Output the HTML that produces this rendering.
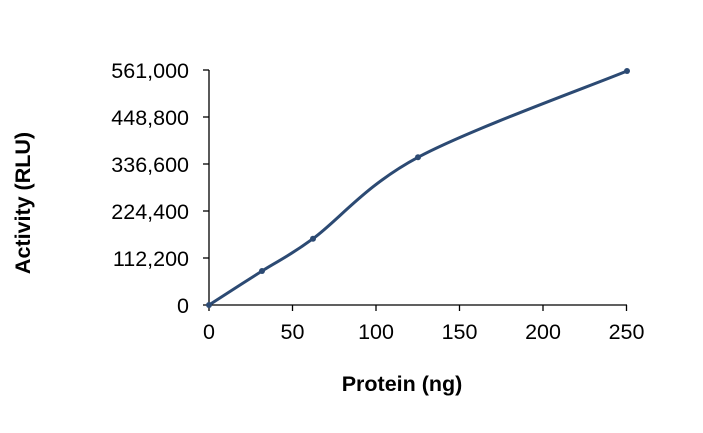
<!DOCTYPE html>
<html><head><meta charset="utf-8"><style>body{margin:0;background:#fff}svg{display:block}</style></head><body>
<svg width="703" height="433" xmlns="http://www.w3.org/2000/svg" font-family="Liberation Sans, Arial, sans-serif">
<rect width="703" height="433" fill="#fff"/>
<g stroke="#000" stroke-width="1.3">
<line x1="209" y1="70" x2="209" y2="305"/>
<line x1="203" y1="305" x2="627" y2="305"/>
<line x1="203" y1="70" x2="209" y2="70"/>
<line x1="203" y1="117" x2="209" y2="117"/>
<line x1="203" y1="164" x2="209" y2="164"/>
<line x1="203" y1="211" x2="209" y2="211"/>
<line x1="203" y1="258" x2="209" y2="258"/>
<line x1="209" y1="305" x2="209" y2="311"/>
<line x1="292.5" y1="305" x2="292.5" y2="311"/>
<line x1="376" y1="305" x2="376" y2="311"/>
<line x1="459.5" y1="305" x2="459.5" y2="311"/>
<line x1="543" y1="305" x2="543" y2="311"/>
<line x1="626.5" y1="305" x2="626.5" y2="311"/>
</g>
<g font-size="21.5" text-anchor="end" fill="#000">
<text x="189" y="78">561,000</text>
<text x="189" y="125">448,800</text>
<text x="189" y="172">336,600</text>
<text x="189" y="219">224,400</text>
<text x="189" y="266">112,200</text>
<text x="189" y="313">0</text>
</g>
<g font-size="21.5" text-anchor="middle" fill="#000">
<text x="209" y="339">0</text>
<text x="292.5" y="339">50</text>
<text x="376" y="339">100</text>
<text x="459.5" y="339">150</text>
<text x="543" y="339">200</text>
<text x="626.5" y="339">250</text>
</g>
<text x="402" y="391" font-size="21.5" font-weight="bold" text-anchor="middle">Protein (ng)</text>
<text transform="translate(30,203) rotate(-90)" font-size="21.5" font-weight="bold" text-anchor="middle">Activity (RLU)</text>
<path d="M209,305 C217.8,299.3 244.7,282 262,271 C279.3,260 287,257.6 313,238.7 C339,219.7 365.7,185.2 418,157.3 C470.3,129.3 592.2,85.4 627,71" fill="none" stroke="#2c4a73" stroke-width="3"/>
<g fill="#2c4a73">
<circle cx="209" cy="305" r="3"/><circle cx="262" cy="271" r="3"/><circle cx="313" cy="238.7" r="3"/><circle cx="418" cy="157.3" r="3"/><circle cx="627" cy="71" r="3"/>
</g>
</svg>
</body></html>
